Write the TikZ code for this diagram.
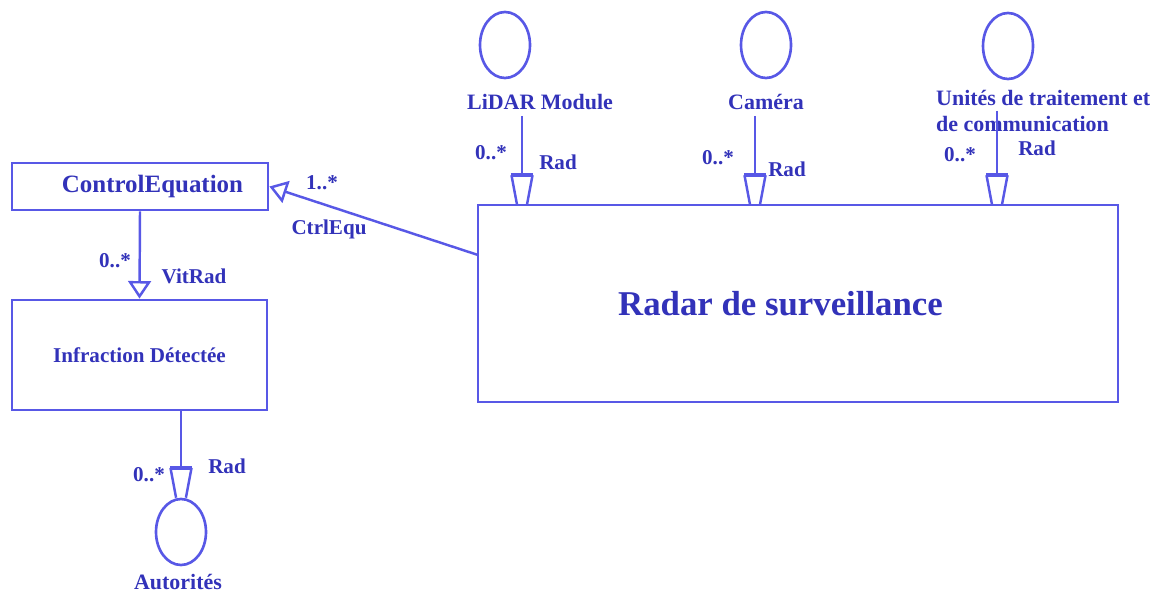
\documentclass[tikz,border=0pt]{standalone}
\usepackage{fontspec}
\setmainfont{Liberation Serif}
\usepackage{tikz}
\usetikzlibrary{shapes.geometric,arrows.meta,positioning}
\definecolor{umlline}{RGB}{88,88,230}
\definecolor{umltext}{RGB}{50,50,185}
\pgfdeclarearrow{
  name = cup,
  setup code = {
    \pgfarrowssettipend{0pt}
    \pgfarrowssetlineend{-16pt}
    \pgfarrowssetbackend{-17pt}
    \pgfarrowssetvisualbackend{-17pt}
    \pgfarrowshullpoint{0pt}{3pt}
    \pgfarrowshullpoint{0pt}{-3pt}
    \pgfarrowshullpoint{-17pt}{6pt}
    \pgfarrowshullpoint{-17pt}{-6pt}
  },
  drawing code = {
    \pgfsetdash{}{0pt}
    \pgfpathmoveto{\pgfqpoint{-17pt}{6pt}}
    \pgfpathlineto{\pgfqpoint{0pt}{2.8pt}}
    \pgfpathmoveto{\pgfqpoint{-17pt}{-6pt}}
    \pgfpathlineto{\pgfqpoint{0pt}{-2.8pt}}
    \pgfusepathqstroke
    \pgfsetlinewidth{2.4pt}
    \pgfpathmoveto{\pgfqpoint{-17pt}{6.5pt}}
    \pgfpathlineto{\pgfqpoint{-17pt}{-6.5pt}}
    \pgfusepathqstroke
  }
}
\tikzstyle{classbox} = [rectangle, draw=umlline, line width=1.6pt, text=umltext]
\tikzstyle{actor} = [ellipse, draw=umlline, line width=1.5pt,
    minimum width=1.0cm, minimum height=1.32cm]
\tikzstyle{tag} = [text=umltext, font=\fontsize{12}{14}\selectfont\bfseries]
\tikzstyle{link} = [draw=umlline, line width=1.4pt]
\tikzstyle{inherit} = [link, -{Triangle[open, length=10pt, width=13pt]}]
\tikzstyle{plug} = [link, -cup]

\begin{document}
\begin{tikzpicture}[x=0.02cm, y=-0.02cm]
\useasboundingbox (0,0) rectangle (1162,594);
\node[classbox, minimum width=5.12cm, minimum height=0.94cm,
    font=\fontsize{14.2}{16}\selectfont\bfseries] (ctrl) at (140,186.5) {\hspace*{0.5cm}ControlEquation};
\node[classbox, minimum width=5.10cm, minimum height=2.2cm,
    font=\fontsize{12}{14}\selectfont\bfseries] (infra) at (139.5,355) {Infraction Détectée};
\node[classbox, minimum width=12.8cm, minimum height=3.94cm,
    font=\fontsize{19.8}{22}\selectfont\bfseries] (radar) at (798,303.5) {Radar de surveillance\hspace*{0.7cm}};

\node[actor] (lidar) at (505,45) {};
\node[actor] (cam) at (766,45) {};
\node[actor] (unit) at (1008,46) {};
\node[actor] (aut) at (181,532) {};
\node[tag, font=\fontsize{12.5}{14.7}\selectfont\bfseries] (lidarlbl) at (540,102) {LiDAR Module};
\node[tag, font=\fontsize{12.5}{14.7}\selectfont\bfseries] (camlbl) at (766,102) {Caméra};
\node[tag, font=\fontsize{12.5}{14.7}\selectfont\bfseries, align=left, anchor=west]
    (unitlbl) at (930,111) {Unités de traitement et\\de communication};
\node[tag, font=\fontsize{12.5}{14.7}\selectfont\bfseries] (autlbl) at (178,582) {Autorités};

\coordinate (lidarpin) at (522,205);
\coordinate (campin) at (755,205);
\coordinate (unitpin) at (997,205);
\coordinate (ctrlpin) at (478,255);
\draw[plug] (lidarlbl.south -| lidarpin) -- (lidarpin);
\draw[plug] (camlbl.south -| campin) -- (campin);
\draw[plug] (unitlbl.center -| unitpin) -- (unitpin);
\draw[plug] (infra.south -| aut) -- (aut.north);
\draw[inherit] (ctrl.south) -- (infra.north);
\draw[inherit] (ctrlpin) -- (ctrl.east);

\node[tag] (m1) at (491,153) {0..*};
\node[tag] (r1) at (558,162) {Rad};
\node[tag] (m2) at (718,158) {0..*};
\node[tag] (r2) at (787,169) {Rad};
\node[tag] (m3) at (960,155) {0..*};
\node[tag] (r3) at (1037,148) {Rad};
\node[tag] (m4) at (149,475) {0..*};
\node[tag] (r4) at (227,466) {Rad};
\node[tag] (m5) at (115,261) {0..*};
\node[tag] (vit) at (194,276) {VitRad};
\node[tag] (m6) at (322,183) {1..*};
\node[tag] (equ) at (329,229) {CtrlEqu};
\end{tikzpicture}
\end{document}
